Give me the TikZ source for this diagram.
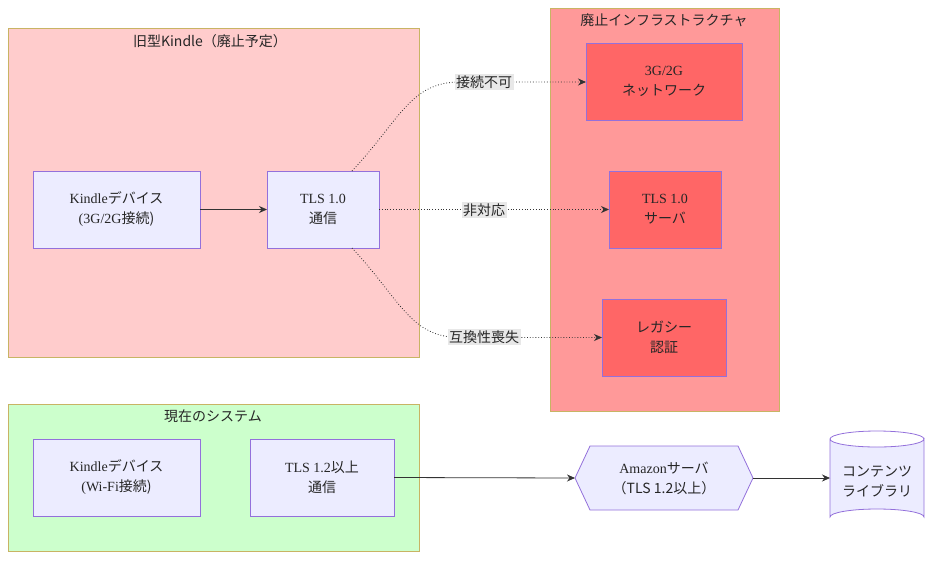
\documentclass[tikz,border=0pt]{standalone}
\usepackage{fontspec}
\setmainfont{Liberation Serif}
\newfontfamily\cjk{Noto Sans CJK JP}
\usetikzlibrary{arrows.meta}
\definecolor{lav}{HTML}{ECECFF}
\definecolor{lavb}{HTML}{9370DB}
\definecolor{grpb}{HTML}{C8B464}
\begin{document}
\begin{tikzpicture}[x=1pt,y=-1pt,font=\fontsize{14}{20}\selectfont,
 grp/.style={draw=grpb,line width=0.8pt},
 nd/.style={draw=lavb,fill=lav,line width=0.8pt},
 red/.style={draw=lavb,fill=red!60,line width=0.8pt},
 tx/.style={align=center,text=black!85,inner sep=0},
 lbl/.style={fill=black!9,inner sep=1.5pt,text=black!85},
 arr/.style={draw=black!80,line width=0.8pt,-{Stealth[length=8pt,width=7pt]}},
 dot/.style={arr,dotted}]
\useasboundingbox (0,0) rectangle (933,560);
% groups
\draw[grp,fill=red!20] (8,28) rectangle (419,357);
\node[tx] (g1) at (210,41) {\cjk{旧型}Kindle\cjk{（廃止予定）}};
\draw[grp,fill=red!40] (550,8) rectangle (779,411);
\node[tx] (g2) at (664,20) {\cjk{廃止インフラストラクチャ}};
\draw[grp,fill=green!20] (8,404) rectangle (419,551);
\node[tx] (g3) at (213,416) {\cjk{現在のシステム}};
% nodes
\draw[nd] (33,171) rectangle (200,248);
\node[tx] (k1) at (116.5,209.5) {Kindle\cjk{デバイス}\\(3G/2G\cjk{接続})};
\draw[nd] (267,171) rectangle (379,248);
\node[tx] (t1) at (323,209.5) {TLS 1.0\\\cjk{通信}};
\draw[red] (586,43) rectangle (742,120);
\node[tx] (net) at (664,81.5) {3G/2G\\\cjk{ネットワーク}};
\draw[red] (609,171) rectangle (721,248);
\node[tx] (srv) at (665,209.5) {TLS 1.0\\\cjk{サーバ}};
\draw[red] (602,299) rectangle (726,376);
\node[tx] (leg) at (664,337.5) {\cjk{レガシー}\\\cjk{認証}};
\draw[nd] (33,439) rectangle (200,516);
\node[tx] (k2) at (116.5,477.5) {Kindle\cjk{デバイス}\\(Wi-Fi\cjk{接続})};
\draw[nd] (250,439) rectangle (394,516);
\node[tx] (t2) at (322,477.5) {TLS 1.2\cjk{以上}\\\cjk{通信}};
\draw[nd] (575,478) -- (590,446) -- (738,446) -- (753,478) -- (738,510) -- (590,510) -- cycle;
\node[tx] (amz) at (664,478) {Amazon\cjk{サーバ}\\\cjk{（}TLS 1.2\cjk{以上）}};
\draw[nd] (830,439) -- (830,517) arc[start angle=180,end angle=360,x radius=47,y radius=8] -- (924,439) arc[start angle=0,end angle=180,x radius=47,y radius=8];
\draw[lavb,line width=0.8pt] (830,439) arc[start angle=180,end angle=360,x radius=47,y radius=8];
\node[tx] (db) at (877,482) {\cjk{コンテンツ}\\\cjk{ライブラリ}};
% coordinates
\coordinate (k1e) at (200,209.5); \coordinate (t1w) at (267,209.5);
\coordinate (t1e) at (379,209.5); \coordinate (t1n) at (352,171); \coordinate (t1s) at (352,248);
\coordinate (netw) at (586,82); \coordinate (srvw) at (609,209.5); \coordinate (legw) at (602,337.5);
\coordinate (t2e) at (394,477.5); \coordinate (amzw) at (575,478); \coordinate (amze) at (753,478); \coordinate (dbw) at (830,478);
% edges
\draw[arr] (k1e) -- (t1w);
\draw[dot] (t1n) .. controls (400,120) and (410,82) .. (460,82) -- (netw);
\draw[dot] (t1e) -- (srvw);
\draw[dot] (t1s) .. controls (400,299) and (410,337.5) .. (460,337.5) -- (legw);
\draw[arr] (t2e) -- (amzw);
\draw[arr] (amze) -- (dbw);
\node[lbl] (l1) at (484,82) {\cjk{接続不可}};
\node[lbl] (l2) at (484,210) {\cjk{非対応}};
\node[lbl] (l3) at (484,337) {\cjk{互換性喪失}};
\end{tikzpicture}
\end{document}
